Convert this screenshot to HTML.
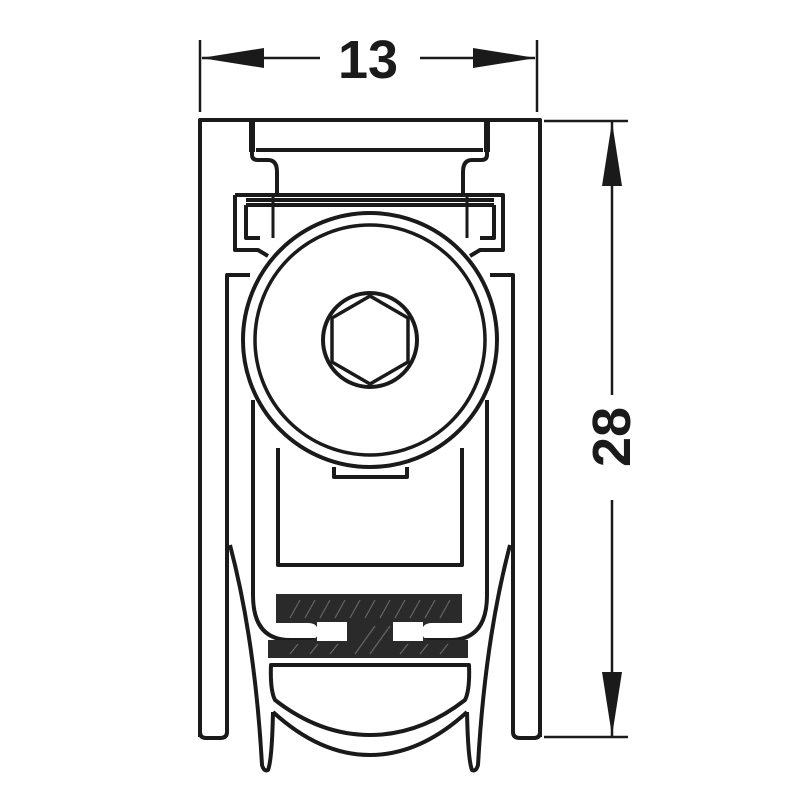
<!DOCTYPE html>
<html><head><style>html,body{margin:0;padding:0;background:#fff}svg{display:block}</style></head>
<body>
<svg width="800" height="800" viewBox="0 0 800 800" xmlns="http://www.w3.org/2000/svg">
<g fill="none" stroke="#1a1a1a" stroke-width="4" stroke-linejoin="round">
<path d="M200,737 V120 H540 V737"/>
<path d="M200,732 Q200,738 206,738 H220 Q227,738 227,732 V275 H250"/>
<path d="M540,732 Q540,738 534,738 H520 Q513,738 513,732 V275 H490"/>
<path d="M252,120 V155 Q252,160 258,160 H268 Q277,160 277,172 V195"/>
<path d="M487,120 V155 Q487,160 481,160 H472 Q463,160 463,172 V195"/>
<path d="M256,150 H483" stroke-width="4"/>
<path d="M252,122 V152 M487,122 V152" stroke-width="6"/>
<path d="M235,195 H503 V250 H480 L470,256 M235,195 V250 H258 L268,256"/>
<path d="M246,200 H494 M246,205 H494 M246,205 V238 H260 M494,205 V238 H480"/>
<path d="M273,195 V238 M467,195 V238" stroke-width="3"/>
<circle cx="370" cy="340" r="127" fill="#fff"/>
<circle cx="370" cy="340" r="115" stroke-width="3.5"/>
<circle cx="370" cy="340" r="47"/>
<polygon points="370,296 408,318 408,362 370,384 332,362 332,318" stroke-width="3.5"/>
<path d="M253,400 V595 Q253,640 290,640 H318"/>
<path d="M487,400 V595 Q487,640 450,640 H422"/>
<path d="M278,448 V565 H462 V448"/>
<path d="M334,467 V477 H407 V467"/>
<path d="M230,545 Q255,640 262,765 Q264,772 268,770 Q272,760 273,712"/>
<path d="M510,545 Q485,640 478,765 Q476,772 472,770 Q468,760 467,712"/>
<path d="M271,665 H469 Q470,690 465,700 Q420,735 370,735 Q320,735 275,700 Q270,690 271,665 Z"/>
<path d="M273,712 Q320,755 370,755 Q420,755 467,712"/>
</g>
<g fill="#2a2a2a">
<path d="M276,594 H462 V623 H432 Q422,623 422,632 Q422,640 432,640 H468 V658 H268 V640 H308 Q318,640 318,632 Q318,623 308,623 H276 Z"/>
<rect x="317" y="622" width="30" height="19" fill="#fff"/>
<rect x="393" y="622" width="30" height="19" fill="#fff"/>
<rect x="347" y="622" width="46" height="19"/>
</g>
<g stroke="#666" stroke-width="1.2">
<path d="M290,618 L300,600 M305,618 L315,600 M320,618 L330,600 M335,618 L345,600 M350,618 L360,600 M365,618 L375,600 M380,618 L390,600 M395,618 L405,600 M410,618 L420,600 M425,618 L435,600 M440,618 L450,600 M290,654 L298,644 M310,654 L318,644 M330,654 L338,644 M355,654 L375,626 M370,654 L390,626 M400,654 L408,644 M420,654 L428,644 M440,654 L448,644"/>
</g>
<g stroke="#1a1a1a" stroke-width="2.5" fill="none">
<path d="M200,40 V112 M537,40 V112"/>
<path d="M202,58 H320 M420,58 H535"/>
<path d="M544,121 H628 M544,737 H628"/>
<path d="M612,121 V395 M612,500 V737"/>
</g>
<g fill="#1a1a1a">
<polygon points="201,58 264,48 264,68"/>
<polygon points="536,58 473,48 473,68"/>
<polygon points="612,122 602,186 622,186"/>
<polygon points="612,736 602,672 622,672"/>
</g>
<text x="368" y="78" font-family="Liberation Sans, sans-serif" font-weight="bold" font-size="54" text-anchor="middle" fill="#1a1a1a">13</text>
<text transform="translate(630,437) rotate(-90)" font-family="Liberation Sans, sans-serif" font-weight="bold" font-size="54" text-anchor="middle" fill="#1a1a1a">28</text>
</svg>
</body></html>
